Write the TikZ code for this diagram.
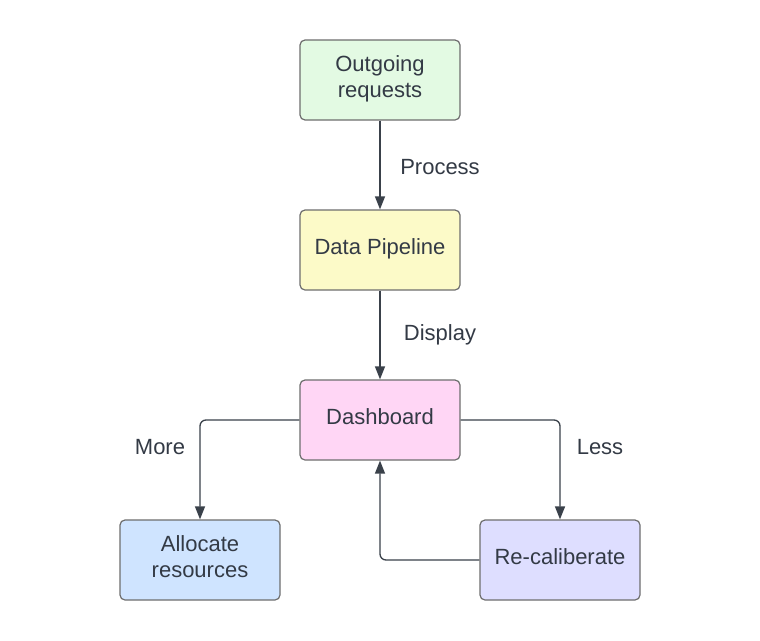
\documentclass[tikz,border=0pt]{standalone}
\usepackage{fontspec}
\setmainfont{Liberation Sans}
\usepackage{tikz}
\usetikzlibrary{arrows.meta}

\definecolor{boxline}{HTML}{6E6E6E}
\definecolor{arrowcol}{HTML}{3A414A}
\definecolor{txt}{HTML}{333A45}
\definecolor{greenfill}{HTML}{E3FAE3}
\definecolor{yellowfill}{HTML}{FCFAC8}
\definecolor{pinkfill}{HTML}{FFD6F5}
\definecolor{bluefill}{HTML}{CFE4FF}
\definecolor{lavfill}{HTML}{DEDEFF}

\tikzset{
  box/.style={draw=boxline, line width=1.2pt, rounded corners=5pt,
    minimum width=160pt, minimum height=80pt, align=center, text depth=7pt,
    text=txt, font=\fontsize{22}{26}\selectfont},
  lbl/.style={text=txt, font=\fontsize{22}{26}\selectfont},
  arrow/.style={draw=arrowcol, line width=1.3pt, rounded corners=6pt,
    -{Triangle[length=13pt,width=10pt]}}
}

\begin{document}
\begin{tikzpicture}[x=1pt,y=-1pt]
          \useasboundingbox[fill=white] (0,0) rectangle (760,640);

            % Blocos
          \node[box, fill=greenfill] (outgoing) at (380,80) {Outgoing\\requests};
          \node[box, fill=yellowfill] (pipeline) at (380,250) {Data Pipeline};
          \node[box, fill=pinkfill] (dashboard) at (380,420) {Dashboard};
          \node[box, fill=bluefill] (allocate) at (200,560) {Allocate\\resources};
          \node[box, fill=lavfill] (recal) at (560,560) {Re-caliberate};

            % Setas
          \draw[arrow] (outgoing) -- (pipeline);
          \draw[arrow] (pipeline) -- (dashboard);
          \draw[arrow] (dashboard.west) -| (allocate.north);
          \draw[arrow] (dashboard.east) -| (recal.north);
          \draw[arrow] (recal.west) -| (dashboard.south);

            % Rótulos
          \node[lbl] (process) at (440,167) {Process};
          \node[lbl] (display) at (440,335) {Display};
          \node[lbl] (more) at (160,447) {More};
          \node[lbl] (less) at (600,447) {Less};
        \end{tikzpicture}
\end{document}
